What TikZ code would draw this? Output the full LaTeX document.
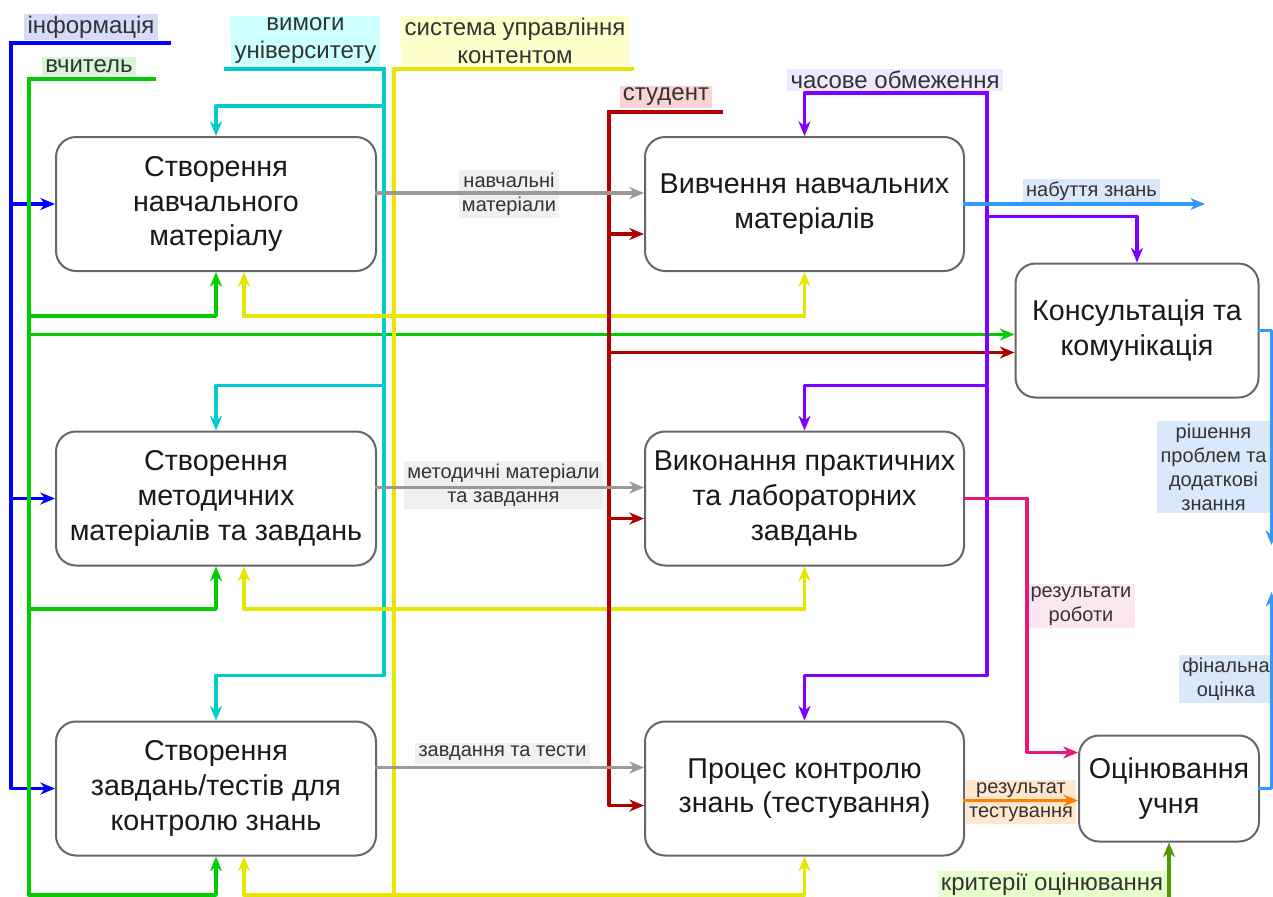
\documentclass[tikz,border=0pt]{standalone}
\usepackage{fontspec}
\setmainfont{Liberation Sans}
\usetikzlibrary{arrows.meta,calc}

\definecolor{boxgray}{HTML}{666666}
\definecolor{cInfo}{HTML}{0000FF}
\definecolor{cTeach}{HTML}{00CC00}
\definecolor{cReq}{HTML}{00CCCC}
\definecolor{cCms}{HTML}{E6E600}
\definecolor{cStud}{HTML}{B20000}
\definecolor{cTime}{HTML}{7F00FF}
\definecolor{cGrey}{HTML}{999999}
\definecolor{cLight}{HTML}{3399FF}
\definecolor{cPink}{HTML}{E6197A}
\definecolor{cOrange}{HTML}{FF8000}
\definecolor{cOlive}{HTML}{4D9900}
\definecolor{bgInfo}{HTML}{D4DCF8}
\definecolor{bgTeach}{HTML}{D5F7D5}
\definecolor{bgReq}{HTML}{CCFFFF}
\definecolor{bgCms}{HTML}{FFFFCC}
\definecolor{bgStud}{HTML}{F8D4D2}
\definecolor{bgTime}{HTML}{F0E8FF}
\definecolor{bgGrey}{HTML}{F0F0F0}
\definecolor{bgLight}{HTML}{DAE8FC}
\definecolor{bgPink}{HTML}{FCE6F0}
\definecolor{bgOrange}{HTML}{FFE6CC}
\definecolor{bgOlive}{HTML}{E6FFCC}

\newcommand\boxfont{\fontsize{21.5pt}{26pt}\selectfont}
\newcommand\tagfont{\fontsize{18pt}{21pt}\selectfont}
\newcommand\edgefont{\fontsize{15pt}{18pt}\selectfont}

\begin{document}
\begin{tikzpicture}[x=0.75pt,y=-0.75pt,line join=round,>={Stealth[length=11pt,width=9pt,inset=3.5pt]},
  proc/.style={draw=boxgray,line width=1.5pt,rounded corners=15pt,fill=white,align=center,
    font=\boxfont,text=black!90,minimum width=240pt,minimum height=100.5pt},
  tag/.style={align=center,font=\tagfont,text=black!80,inner xsep=2.5pt,inner ysep=1.5pt},
  elbl/.style={align=center,font=\edgefont,text=black!80,inner xsep=2.5pt,inner ysep=2pt},
  wire/.style={line width=2.5pt,line cap=rect,->}]
\useasboundingbox (0,0) rectangle (1273,896);

\node[proc] (nm) at (216,204) {Створення\\навчального\\матеріалу};
\node[proc] (mm) at (216,498.5) {Створення\\методичних\\матеріалів та завдань};
\node[proc] (zt) at (216,788.5) {Створення\\завдань/тестів для\\контролю знань};
\node[proc,minimum width=239.25pt] (vn) at (804.5,204) {Вивчення навчальних\\матеріалів};
\node[proc,minimum width=239.25pt] (vp) at (804.5,498.5) {Виконання практичних\\та лабораторних\\завдань};
\node[proc,minimum width=239.25pt] (pk) at (804.5,788.5) {Процес контролю\\знань (тестування)};
\node[proc,minimum width=182.25pt] (kk) at (1137,330.5) {Консультація та\\комунікація};
\node[proc,minimum width=135pt,minimum height=79.5pt] (ou) at (1169,788.5) {Оцінювання\\учня};

\node[tag,fill=bgInfo] (info) at (91,27) {інформація};
\node[tag,fill=bgTeach] (teach) at (89,66) {вчитель};
\node[tag,fill=bgReq] (req) at (305.5,41) {вимоги\\університету};
\node[tag,fill=bgCms] (cms) at (515,41) {система управління\\контентом};
\node[tag,fill=bgStud] (stud) at (666,97) {студент};
\node[tag,fill=bgTime] (time) at (895,80) {часове обмеження};
\node[tag,fill=bgOlive] (crit) at (1052,884) {критерії оцінювання};

\node[elbl,fill=bgGrey] (lNm) at (509,194) {навчальні\\матеріали};
\node[elbl,fill=bgGrey] (lMm) at (503.5,485) {методичні матеріали\\та завдання};
\node[elbl,fill=bgGrey] (lZt) at (502.5,753.5) {завдання та тести};
\node[elbl,fill=bgLight] (lGain) at (1091.5,191) {набуття знань};
\node[elbl,fill=bgPink] (lWork) at (1081,606) {результати\\роботи};
\node[elbl,fill=bgOrange] (lTest) at (1021,802) {результат\\тестування};
\node[elbl,fill=bgLight] (lSol) at (1213.5,467) {рішення\\проблем та\\додаткові\\знання};
\node[elbl,fill=bgLight] (lMark) at (1226,679) {фінальна\\оцінка};

\coordinate (rowA) at (0,316);
\coordinate (rowB) at (0,609);
\coordinate (rowC) at (0,895);

\coordinate (infoR) at (169,43);
\coordinate (infoL) at (11,43);
\draw[wire,cInfo] (infoR) -- (infoL) |- (nm.west);
\draw[wire,cInfo] (infoL) |- (mm.west);
\draw[wire,cInfo] (infoL) |- (zt.west);

\coordinate (teachR) at (154,79);
\coordinate (teachL) at (29,79);
\draw[wire,cTeach] (teachR) -- (teachL) |- (nm.south |- rowA) -- (nm.south);
\draw[wire,cTeach] (teachL) |- ($(kk.west)+(0,4)$);
\draw[wire,cTeach] (teachL) |- (mm.south |- rowB) -- (mm.south);
\draw[wire,cTeach] (teachL) |- (zt.south |- rowC) -- (zt.south);

\coordinate (reqL) at (226,69);
\coordinate (reqR) at (384,69);
\draw[wire,cReq] (reqL) -- (reqR) |- ($(nm.north)+(0,-30)$) -- (nm.north);
\draw[wire,cReq] (reqR) |- ($(mm.north)+(0,-45)$) -- (mm.north);
\draw[wire,cReq] (reqR) |- ($(zt.north)+(0,-45)$) -- (zt.north);

\coordinate (cmsR) at (632,69);
\coordinate (cmsL) at (394,69);
\draw[wire,cCms,-] (cmsR) -- (cmsL) -- (cmsL |- rowC);
\draw[wire,cCms,<->] ($(nm.south)+(28,0)$) |- (vn.south |- rowA) -- (vn.south);
\draw[wire,cCms,<->] ($(mm.south)+(28,0)$) |- (vp.south |- rowB) -- (vp.south);
\draw[wire,cCms,<->] ($(zt.south)+(28,0)$) |- (pk.south |- rowC) -- (pk.south);

\coordinate (studR) at (721,112);
\coordinate (studL) at (609,112);
\draw[wire,cStud] (studR) -- (studL) |- ($(vn.west)+(0,30)$);
\draw[wire,cStud] (studL) |- ($(kk.west)+(0,22)$);
\draw[wire,cStud] (studL) |- ($(vp.west)+(0,20)$);
\draw[wire,cStud] (studL) |- ($(pk.west)+(0,17)$);

\coordinate (timeR) at (987,93);
\draw[wire,cTime] (timeR) -| (vn.north);
\draw[wire,cTime] (timeR) |- ($(kk.north)+(0,-46)$) -- (kk.north);
\draw[wire,cTime] (timeR) |- ($(vp.north)+(0,-45)$) -- (vp.north);
\draw[wire,cTime] (timeR) |- ($(pk.north)+(0,-45)$) -- (pk.north);

\draw[wire,cGrey] ($(nm.east)+(0,-11)$) -- ($(vn.west)+(0,-11)$);
\draw[wire,cGrey] ($(mm.east)+(0,-11)$) -- ($(vp.west)+(0,-11)$);
\draw[wire,cGrey] ($(zt.east)+(0,-21)$) -- ($(pk.west)+(0,-21)$);

\coordinate (gainEnd) at (1205,204);
\draw[wire,cLight] (vn.east) -- (gainEnd);
\draw[wire,cPink] (vp.east) -- ++(62,0) |- ($(ou.west)+(0,-36)$);
\draw[wire,cOrange] ($(pk.east)+(0,12)$) -- ($(ou.west)+(0,12)$);
\coordinate (critEnd) at (1169,896);
\draw[wire,cOlive] (critEnd) -- (ou.south);

\coordinate (solEnd) at (1271.5,545);
\coordinate (markEnd) at (1271.5,592);
\draw[wire,cLight] (kk.east) -| (solEnd);
\draw[wire,cLight] (ou.east) -| (markEnd);
\end{tikzpicture}
\end{document}
